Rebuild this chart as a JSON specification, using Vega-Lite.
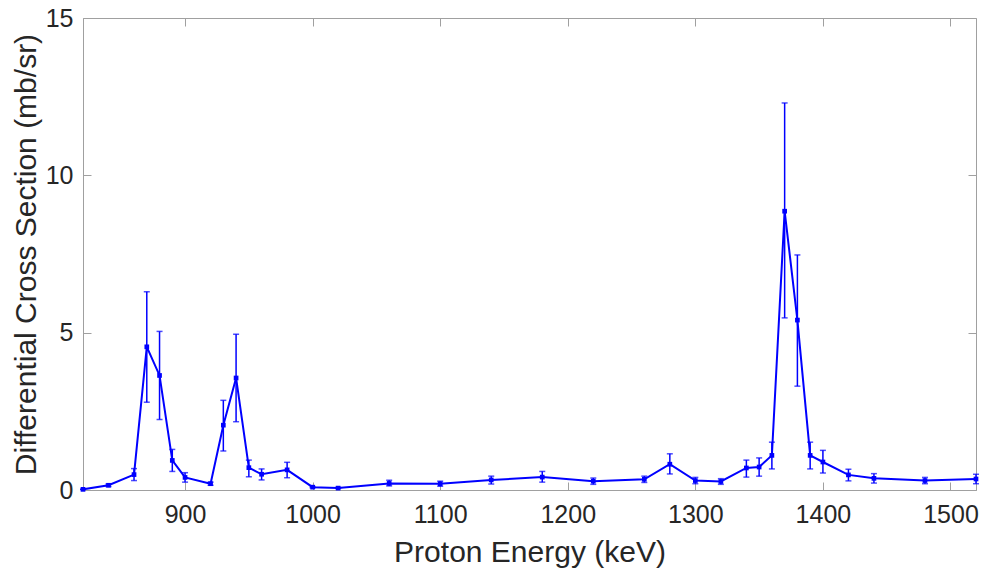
{
  "$schema": "https://vega.github.io/schema/vega-lite/v6.json",
  "autosize": "none",
  "width": 893,
  "height": 472,
  "padding": {"left": 83, "top": 18, "right": 6, "bottom": 79},
  "background": "white",
  "config": {
    "view": {"stroke": "#a0a0a0", "strokeWidth": 1},
    "font": "Liberation Sans",
    "axis": {
      "grid": false,
      "domainColor": "#a0a0a0",
      "tickColor": "#a0a0a0",
      "labelColor": "#262626",
      "titleColor": "#262626",
      "labelFont": "Liberation Sans",
      "titleFont": "Liberation Sans",
      "labelFontSize": 25,
      "titleFontSize": 30,
      "titleFontWeight": "normal",
      "tickSize": -8
    }
  },
  "data": {
    "values": [
      {"e": 820, "y": 0.02, "lo": 0.02, "hi": 0.02},
      {"e": 840, "y": 0.15, "lo": 0.11, "hi": 0.19},
      {"e": 860, "y": 0.49, "lo": 0.30, "hi": 0.68},
      {"e": 870, "y": 4.55, "lo": 2.79, "hi": 6.30},
      {"e": 880, "y": 3.64, "lo": 2.24, "hi": 5.04},
      {"e": 890, "y": 0.94, "lo": 0.59, "hi": 1.29},
      {"e": 900, "y": 0.40, "lo": 0.25, "hi": 0.55},
      {"e": 920, "y": 0.20, "lo": 0.15, "hi": 0.25},
      {"e": 930, "y": 2.06, "lo": 1.24, "hi": 2.85},
      {"e": 940, "y": 3.56, "lo": 2.17, "hi": 4.95},
      {"e": 950, "y": 0.71, "lo": 0.42, "hi": 0.95},
      {"e": 960, "y": 0.50, "lo": 0.32, "hi": 0.67},
      {"e": 980, "y": 0.64, "lo": 0.39, "hi": 0.88},
      {"e": 1000, "y": 0.09, "lo": 0.07, "hi": 0.11},
      {"e": 1020, "y": 0.06, "lo": 0.05, "hi": 0.08},
      {"e": 1060, "y": 0.21, "lo": 0.13, "hi": 0.31},
      {"e": 1100, "y": 0.20, "lo": 0.12, "hi": 0.28},
      {"e": 1140, "y": 0.32, "lo": 0.19, "hi": 0.44},
      {"e": 1180, "y": 0.41, "lo": 0.25, "hi": 0.59},
      {"e": 1220, "y": 0.28, "lo": 0.18, "hi": 0.38},
      {"e": 1260, "y": 0.34, "lo": 0.24, "hi": 0.44},
      {"e": 1280, "y": 0.82, "lo": 0.51, "hi": 1.15},
      {"e": 1300, "y": 0.30, "lo": 0.20, "hi": 0.40},
      {"e": 1320, "y": 0.27, "lo": 0.18, "hi": 0.36},
      {"e": 1340, "y": 0.70, "lo": 0.41, "hi": 0.95},
      {"e": 1350, "y": 0.73, "lo": 0.44, "hi": 1.02},
      {"e": 1360, "y": 1.10, "lo": 0.67, "hi": 1.52},
      {"e": 1370, "y": 8.86, "lo": 5.47, "hi": 12.30},
      {"e": 1380, "y": 5.40, "lo": 3.30, "hi": 7.47},
      {"e": 1390, "y": 1.10, "lo": 0.67, "hi": 1.52},
      {"e": 1400, "y": 0.89, "lo": 0.54, "hi": 1.26},
      {"e": 1420, "y": 0.48, "lo": 0.29, "hi": 0.66},
      {"e": 1440, "y": 0.37, "lo": 0.22, "hi": 0.52},
      {"e": 1480, "y": 0.30, "lo": 0.20, "hi": 0.40},
      {"e": 1520, "y": 0.35, "lo": 0.20, "hi": 0.50}
    ]
  },
  "layer": [
    {
      "mark": {"type": "line", "color": "#0000ff", "strokeWidth": 2, "clip": true},
      "encoding": {
        "x": {"field": "e", "type": "quantitative",
              "scale": {"domain": [820, 1520], "nice": false, "zero": false},
              "axis": {"title": "Proton Energy (keV)", "values": [900, 1000, 1100, 1200, 1300, 1400, 1500], "format": "d", "labelPadding": 20, "titlePadding": 10}},
        "y": {"field": "y", "type": "quantitative",
              "scale": {"domain": [0, 15], "nice": false},
              "axis": {"title": "Differential Cross Section (mb/sr)", "values": [0, 5, 10, 15], "labelPadding": 18, "titlePadding": 4}}
      }
    },
    {
      "mark": {"type": "rule", "color": "#0000ff", "strokeWidth": 1.5},
      "encoding": {
        "x": {"field": "e", "type": "quantitative", "axis": null},
        "y": {"field": "lo", "type": "quantitative", "axis": null},
        "y2": {"field": "hi"}
      }
    },
    {
      "mark": {"type": "tick", "color": "#0000ff", "orient": "horizontal", "size": 6, "thickness": 1.5},
      "encoding": {
        "x": {"field": "e", "type": "quantitative", "axis": null},
        "y": {"field": "lo", "type": "quantitative", "axis": null}
      }
    },
    {
      "mark": {"type": "tick", "color": "#0000ff", "orient": "horizontal", "size": 6, "thickness": 1.5},
      "encoding": {
        "x": {"field": "e", "type": "quantitative", "axis": null},
        "y": {"field": "hi", "type": "quantitative", "axis": null}
      }
    },
    {
      "mark": {"type": "square", "color": "#0000ff", "filled": true, "size": 22, "opacity": 1},
      "encoding": {
        "x": {"field": "e", "type": "quantitative",
              "axis": {"orient": "top", "labels": false, "title": null, "domain": false, "values": [900, 1000, 1100, 1200, 1300, 1400, 1500]}},
        "y": {"field": "y", "type": "quantitative",
              "axis": {"orient": "right", "labels": false, "title": null, "domain": false, "values": [0, 5, 10, 15]}}
      }
    }
  ],
  "resolve": {"axis": {"x": "independent", "y": "independent"}}
}
